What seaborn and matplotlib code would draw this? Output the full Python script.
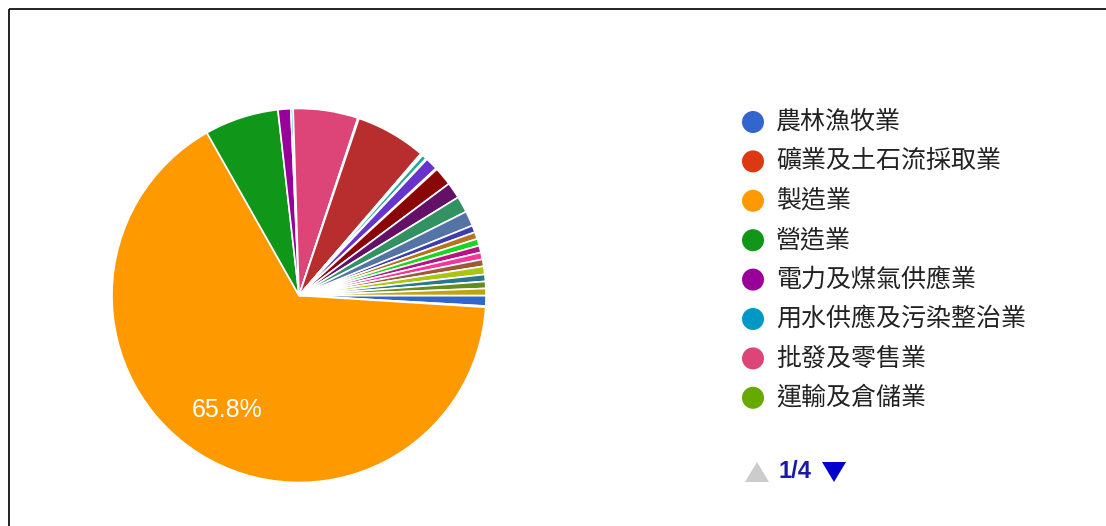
import matplotlib
matplotlib.use("Agg")
import matplotlib.pyplot as plt
from matplotlib.patches import Circle, Polygon
import seaborn as sns

# slices in data order (only the first legend page is readable in the chart)
industries = [
    "農林漁牧業", "礦業及土石流採取業", "製造業", "營造業",
    "電力及煤氣供應業", "用水供應及污染整治業", "批發及零售業", "運輸及倉儲業",
    "住宿及餐飲業", "資訊及通訊傳播業", "金融及保險業", "不動產業",
    "專業、科學及技術服務業", "支援服務業", "公共行政及國防", "教育服務業",
    "醫療保健及社會工作服務業", "藝術、娛樂及休閒服務業", "其他服務業", "類別20",
    "類別21", "類別22", "類別23", "類別24", "類別25", "類別26", "類別27",
    "類別28", "類別29",
]
shares = [
    0.9, 0.1, 65.8, 6.4, 1.1, 0.2, 5.6, 0.1,
    6.1, 0.1, 0.1, 0.4, 0.1, 1.1, 0.1, 1.6,
    1.4, 1.4, 1.3, 0.6, 0.6, 0.6, 0.6, 0.6,
    0.6, 0.7, 0.6, 0.6, 0.6,
]
slice_colors = [
    "#3366cc", "#dc3912", "#ff9900", "#109618", "#990099", "#0099c6",
    "#dd4477", "#66aa00", "#b82e2e", "#316395", "#994499", "#22aa99",
    "#aaaa11", "#6633cc", "#e67300", "#8b0707", "#651067", "#329262",
    "#5574a6", "#3b3eac", "#b77322", "#16d620", "#b91383", "#f4359e",
    "#9c5935", "#a9c413", "#2a778d", "#668d1c", "#bea413",
]
legend_page = industries[:8]
page_text = "1/4"

sns.set_theme(style="white")
plt.rcParams["font.family"] = ["Noto Sans CJK TC", "DejaVu Sans"]
palette = sns.color_palette(slice_colors)

W, H = 1106, 526
fig = plt.figure(figsize=(W / 100, H / 100), dpi=100)

# pie: centre (299, 295.5) px, radius 187 px
cx, cy, r = 299, 295.5, 187
ax = fig.add_axes([(cx - r) / W, (H - cy - r) / H, 2 * r / W, 2 * r / H])
wedges, texts, autotexts = ax.pie(
    shares,
    colors=palette,
    startangle=0,
    counterclock=False,
    autopct=lambda p: f"{p:.1f}%" if p > 10 else "",
    pctdistance=0.72,
    wedgeprops=dict(edgecolor="white", linewidth=1.2),
)
for t in autotexts:
    t.set_color("white")
    t.set_fontsize(18)
    t.set_family(["Liberation Sans", "DejaVu Sans"])
ax.set_xlim(-1, 1)
ax.set_ylim(-1, 1)

# overlay in pixel units for legend, pager and frame
ov = fig.add_axes([0, 0, 1, 1], zorder=-1)
ov.set_xlim(0, W)
ov.set_ylim(H, 0)
ov.axis("off")

ov.plot([8.5, 8.5], [H, 9], color="#111111", lw=1.3, solid_capstyle="butt")
ov.plot([8.5, W], [9, 9], color="#111111", lw=1.3, solid_capstyle="butt")

for i, name in enumerate(legend_page):
    y = 122 + i * 39.4
    ov.add_patch(Circle((753, y), 11, color=palette[i], lw=0))
    ov.text(776, y, name, va="center", ha="left", fontsize=18, color="#222222")

py = 472
ov.add_patch(Polygon([(745, py + 10), (769, py + 10), (757, py - 10)], color="#cccccc", lw=0))
ov.text(778, py, page_text, va="center", ha="left", fontsize=17, fontweight="bold",
        color="#1a1aa6", family=["Liberation Sans", "DejaVu Sans"])
ov.add_patch(Polygon([(822, py - 10), (846, py - 10), (834, py + 10)], color="#0000cc", lw=0))

fig.savefig("out.png", dpi=100)
